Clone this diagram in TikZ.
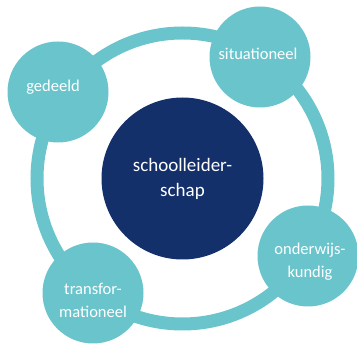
\documentclass[tikz,border=0pt]{standalone}
\usepackage{fontspec}
\setmainfont{Carlito}
\usetikzlibrary{positioning}
\definecolor{ringteal}{RGB}{106,196,204}
\definecolor{kernblauw}{RGB}{20,48,107}

\begin{document}
\begin{tikzpicture}[x=1pt, y=-1pt,
		kern/.style = {circle, fill=kernblauw, text=white, minimum size=162pt, inner sep=0pt, align=center, font=\fontsize{19}{25}\selectfont},
		stijl/.style = {circle, fill=ringteal, text=white, minimum size=101pt, inner sep=0pt, align=center, font=\fontsize{16.5}{23}\selectfont},
		tekst/.style = {text=white, align=center, font=\fontsize{16.5}{23}\selectfont},
		ring/.style = {draw=ringteal, line width=13pt}]
		\useasboundingbox (0,0) rectangle (357,344);
		\node[kern] (leider) at (182.5,178.5) {schoolleider-\\schap};
		\draw[ring] (leider.center) circle[radius=145.5pt];
		\node[stijl, label={[tekst, xshift=-5pt, yshift=5pt]center:gedeeld}] (gedeeld) at (58,92) {};
		\node[stijl, label={[tekst, xshift=-2pt, yshift=3pt]center:situationeel}] (situationeel) at (260,57) {};
		\node[stijl, label={[tekst, xshift=2pt, yshift=-6pt]center:onderwijs-\\kundig}] (onderwijs) at (308,256) {};
		\node[stijl, label={[tekst, yshift=-7pt]center:transfor-\\mationeel}] (transformationeel) at (93,293) {};
	\end{tikzpicture}
\end{document}
